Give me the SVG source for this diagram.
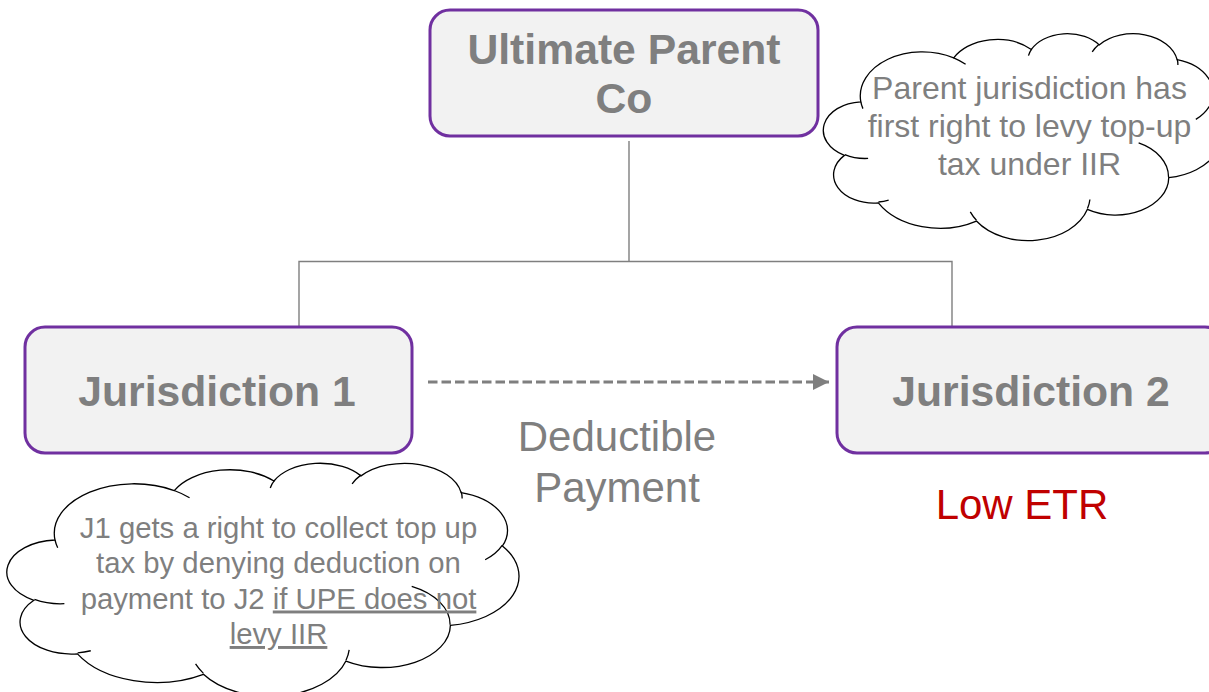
<svg xmlns="http://www.w3.org/2000/svg" width="1209" height="692" viewBox="0 0 1209 692">
<style>
.box{fill:#F2F2F2;stroke:#7030A0;stroke-width:3}
.bt{font-family:"Liberation Sans",Arial,sans-serif;font-weight:bold;font-size:42.7px;fill:#7F7F7F;text-anchor:middle}
.lbl{font-family:"Liberation Sans",Arial,sans-serif;font-size:42px;fill:#7F7F7F;text-anchor:middle}
.red{font-family:"Liberation Sans",Arial,sans-serif;font-size:42px;fill:#C00000;text-anchor:middle}
.ct{font-family:"Liberation Sans",Arial,sans-serif;fill:#7F7F7F;text-anchor:middle}
.cloud{fill:#FFFFFF;stroke:#000000;stroke-width:1.3px;vector-effect:non-scaling-stroke}
.cin{fill:none;stroke:#000000;stroke-width:1.3px;vector-effect:non-scaling-stroke}
.conn{fill:none;stroke:#7F7F7F;stroke-width:1.4}
</style>
<defs>
<marker id="arr" markerUnits="userSpaceOnUse" markerWidth="17" markerHeight="17" refX="16" refY="8" orient="auto">
<path d="M0 0 L16 8 L0 16 Z" fill="#7F7F7F"/>
</marker>
</defs>

<g id="connectors">
<path class="conn" d="M629 141 V261.5 M299 326 V261.5 H952 V326"/>
<line x1="428" y1="382" x2="829" y2="382" stroke="#7F7F7F" stroke-width="3.2" stroke-dasharray="9.5 4" marker-end="url(#arr)"/>
</g>

<g id="node-upe">
<rect class="box" x="430" y="10" width="388" height="126" rx="20"/>
<text class="bt" x="624" y="64">Ultimate Parent</text>
<text class="bt" x="624" y="113">Co</text>
</g>

<g id="node-j1">
<rect class="box" x="25" y="327" width="387" height="126" rx="20"/>
<text class="bt" x="217" y="406">Jurisdiction 1</text>
</g>

<g id="node-j2">
<rect class="box" x="837" y="327" width="388" height="126" rx="20"/>
<text class="bt" x="1031" y="406">Jurisdiction 2</text>
</g>

<g id="label-payment">
<text class="lbl" x="617" y="451">Deductible</text>
<text class="lbl" x="617" y="502">Payment</text>
</g>

<g id="label-low-etr">
<text class="red" x="1022" y="519">Low ETR</text>
</g>

<g id="cloud-parent">
<g transform="translate(825 33) scale(0.00919 0.00479)">
<path class="cloud" d="M3900 14370 A6753 9190 0 0 1 14005 5202 A5333 7267 0 0 1 22455 3432 A4365 5945 0 0 1 29832 2480 A4857 6595 0 0 1 38317 5576 A5333 7273 0 0 1 41817 15460 A6775 9220 0 0 1 37403 30203 A5785 7867 0 0 1 28554 36813 A6752 9215 0 0 1 16478 39263 A7720 10543 0 0 1 5803 35469 A4360 5918 0 0 1 2112 25547 A4345 5945 0 0 1 3900 14370 Z"/>
<path class="cin" d="M4693 26177 A4345 5945 0 0 1 2160 25380 M6928 34899 A4360 5918 0 0 1 5819 35281 M16478 39090 A6752 9215 0 0 1 15811 37351 M28827 34751 A6752 9215 0 0 1 28560 36660 M34129 22954 A5785 7867 0 0 1 37381 30090 M41798 15354 A5333 7273 0 0 1 40351 18029 M38324 5426 A4857 6595 0 0 1 38400 6690 M29078 3952 A4857 6595 0 0 1 29820 2340 M22141 4720 A4365 5945 0 0 1 22500 3330 M14000 5192 A6753 9190 0 0 1 15301 6541 M4127 15789 A6753 9190 0 0 1 3900 14370"/>
</g>
<text class="ct" font-size="32" x="1029.5" y="99">Parent jurisdiction has</text>
<text class="ct" font-size="32" x="1029.5" y="137">first right to levy top-up</text>
<text class="ct" font-size="32" x="1029.5" y="175">tax under IIR</text>
</g>

<g id="cloud-j1">
<g transform="translate(9 462.5) scale(0.0118 0.005394)">
<path class="cloud" d="M3900 14370 A6753 9190 0 0 1 14005 5202 A5333 7267 0 0 1 22455 3432 A4365 5945 0 0 1 29832 2480 A4857 6595 0 0 1 38317 5576 A5333 7273 0 0 1 41817 15460 A6775 9220 0 0 1 37403 30203 A5785 7867 0 0 1 28554 36813 A6752 9215 0 0 1 16478 39263 A7720 10543 0 0 1 5803 35469 A4360 5918 0 0 1 2112 25547 A4345 5945 0 0 1 3900 14370 Z"/>
<path class="cin" d="M4693 26177 A4345 5945 0 0 1 2160 25380 M6928 34899 A4360 5918 0 0 1 5819 35281 M16478 39090 A6752 9215 0 0 1 15811 37351 M28827 34751 A6752 9215 0 0 1 28560 36660 M34129 22954 A5785 7867 0 0 1 37381 30090 M41798 15354 A5333 7273 0 0 1 40351 18029 M38324 5426 A4857 6595 0 0 1 38400 6690 M29078 3952 A4857 6595 0 0 1 29820 2340 M22141 4720 A4365 5945 0 0 1 22500 3330 M14000 5192 A6753 9190 0 0 1 15301 6541 M4127 15789 A6753 9190 0 0 1 3900 14370"/>
</g>
<text class="ct" font-size="29.3" x="278.5" y="537.5">J1 gets a right to collect top up</text>
<text class="ct" font-size="29.3" x="278.5" y="573">tax by denying deduction on</text>
<text class="ct" font-size="29.3" x="278.5" y="608.5">payment to J2 <tspan text-decoration="underline">if UPE does not</tspan></text>
<text class="ct" font-size="29.3" x="278.5" y="644" text-decoration="underline">levy IIR</text>
</g>
</svg>
